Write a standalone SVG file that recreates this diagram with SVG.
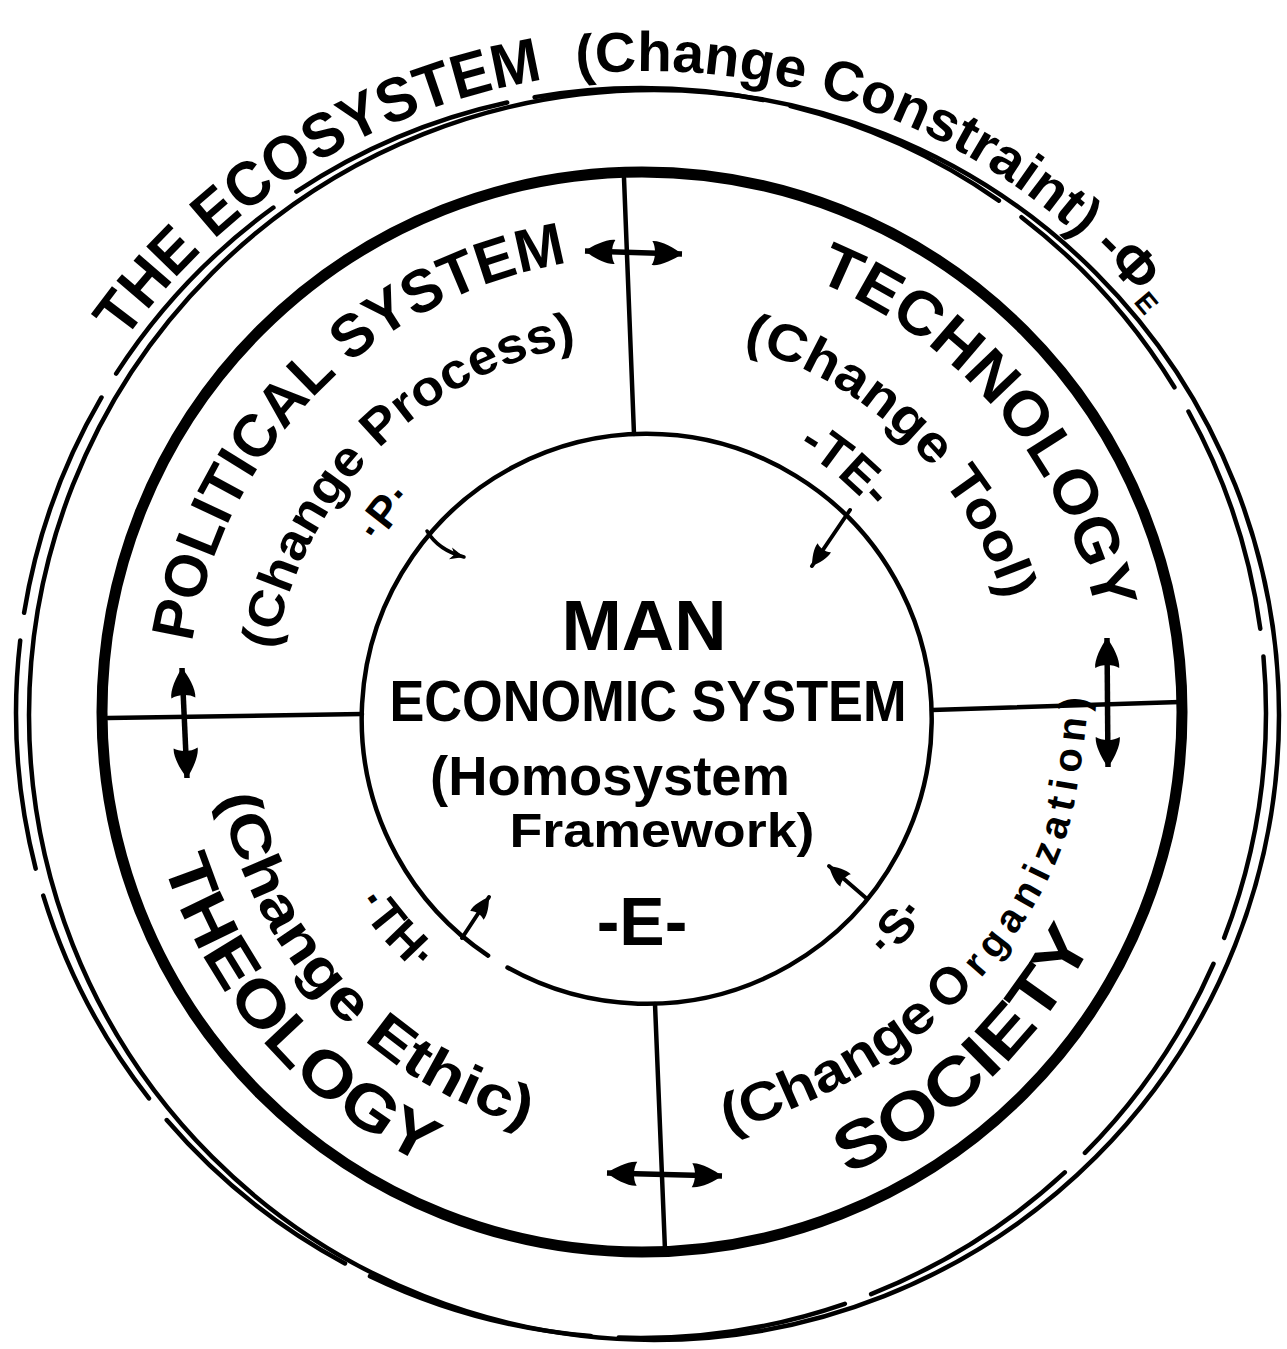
<svg xmlns="http://www.w3.org/2000/svg" width="1287" height="1349" viewBox="0 0 1287 1349">
<style>
.t{font-family:"Liberation Sans","DejaVu Sans",Arial,sans-serif;font-weight:bold;fill:#000}
.thin{fill:none;stroke:#000;stroke-width:4.5;stroke-linecap:round}
.thick{fill:none;stroke:#000;stroke-width:11}
.dash{fill:none;stroke:#000;stroke-width:4.5;stroke-linecap:round;stroke-dasharray:230 28}
.div{fill:none;stroke:#000;stroke-width:4.5;stroke-linecap:round}
.arr{fill:none;stroke:#000;stroke-width:5.5;stroke-linecap:butt;marker-start:url(#ah);marker-end:url(#ah)}
.sarr{fill:none;stroke:#000;stroke-width:3.5;stroke-linecap:round;marker-end:url(#sh)}
.marr{fill:none;stroke:#000;stroke-width:4;stroke-linecap:round;marker-end:url(#mh)}
</style>
<defs>
<marker id="ah" viewBox="-32 -14 34 28" refX="0" refY="0" markerWidth="34" markerHeight="28" markerUnits="userSpaceOnUse" orient="auto-start-reverse">
<path d="M0 0 C-8 -6 -22 -13 -30 -12 C-26 -6 -26 6 -30 12 C-22 13 -8 6 0 0Z"/>
</marker>
<marker id="mh" viewBox="-24 -10 26 20" refX="0" refY="0" markerWidth="26" markerHeight="20" markerUnits="userSpaceOnUse" orient="auto">
<path d="M0 0 C-6 -4 -16 -9 -22 -8 C-19 -4 -19 4 -22 8 C-16 9 -6 4 0 0Z"/>
</marker>
<marker id="sh" viewBox="-16 -8 18 16" refX="0" refY="0" markerWidth="18" markerHeight="16" markerUnits="userSpaceOnUse" orient="auto">
<path d="M0 0 L-14 -6 L-10 0 L-14 6Z"/>
</marker>
<path id="pEco" d="M91.2 392.5 A643 643 0 0 1 1230.8 442.3"/>
<path id="pPol" d="M188.7 672.3 A455 455 0 0 1 642 257"/>
<path id="pPolC" d="M271.4 679.6 A372 372 0 0 1 642 340"/>
<path id="pP" d="M334.8 657.8 A312 312 0 0 1 535.3 418.8"/>
<path id="pTech" d="M762.3 262.8 A465 465 0 0 1 1105.2 671.5"/>
<path id="pTechC" d="M707.8 338.8 A379 379 0 0 1 1019.6 679"/>
<path id="pTE" d="M695.1 410.6 A306 306 0 0 1 929.5 607.3"/>
<path id="pTheo" d="M147.6 799.2 A502 502 0 0 0 512.1 1196.9"/>
<path id="pTheoC" d="M212.3 727 A430 430 0 0 0 604.5 1140.4"/>
<path id="pTH" d="M303.2 771.7 A344 344 0 0 0 524.3 1035.3"/>
<path id="pSoc" d="M729.9 1210.3 A506 506 0 0 0 1130.8 843"/>
<path id="pS" d="M702.6 1055.7 A349 349 0 0 0 985.7 772.6"/>
<path id="pOrg" d="M720 1135 C800 1110 890 1070 960 1000 C1010 950 1060 880 1075 800 C1082 760 1086 730 1088 700"/>
</defs>
<rect width="1287" height="1349" fill="#fff"/>

<g id="ecosystem">
<circle class="thin" cx="654" cy="715" r="625"/>
<circle class="dash" cx="641" cy="713" r="625"/>
<text class="t" font-size="62"><textPath href="#pEco" startOffset="62" textLength="506" lengthAdjust="spacingAndGlyphs">THE ECOSYSTEM</textPath></text>
<text class="t" font-size="56"><textPath href="#pEco" startOffset="602" textLength="546" lengthAdjust="spacingAndGlyphs">(Change Constraint)</textPath></text>
<text class="t" font-size="56"><textPath href="#pEco" startOffset="1163">-Φ</textPath></text>
<text class="t" font-size="28" transform="translate(1133 302) rotate(50)">E</text>
</g>

<g id="systems-ring">
<circle class="thick" cx="642" cy="712" r="540"/>
</g>

<g id="political">
<text class="t" font-size="60"><textPath href="#pPol" startOffset="30" textLength="570" lengthAdjust="spacingAndGlyphs">POLITICAL SYSTEM</textPath></text>
<text class="t" font-size="50"><textPath href="#pPolC" startOffset="30" textLength="456" lengthAdjust="spacingAndGlyphs">(Change Process)</textPath></text>
<text class="t" font-size="44" text-anchor="middle"><textPath href="#pP" startOffset="152">·P·</textPath></text>
</g>

<g id="technology">
<text class="t" font-size="62"><textPath href="#pTech" startOffset="56" textLength="452" lengthAdjust="spacingAndGlyphs">TECHNOLOGY</textPath></text>
<text class="t" font-size="52"><textPath href="#pTechC" startOffset="36" textLength="380" lengthAdjust="spacingAndGlyphs">(Change Tool)</textPath></text>
<text class="t" font-size="50" text-anchor="middle"><textPath href="#pTE" startOffset="158">-TE-</textPath></text>
</g>

<g id="theology">
<text class="t" font-size="64"><textPath href="#pTheo" startOffset="66" textLength="410" lengthAdjust="spacingAndGlyphs">THEOLOGY</textPath></text>
<text class="t" font-size="56"><textPath href="#pTheoC" startOffset="70" textLength="474" lengthAdjust="spacingAndGlyphs">(Change Ethic)</textPath></text>
<text class="t" font-size="48" text-anchor="middle"><textPath href="#pTH" startOffset="190">·TH·</textPath></text>
</g>

<g id="society">
<text class="t" font-size="66"><textPath href="#pSoc" startOffset="123" textLength="346" lengthAdjust="spacingAndGlyphs">SOCIETY</textPath></text>
<text class="t" font-size="48" text-anchor="middle"><textPath href="#pS" startOffset="243">·S·</textPath></text>
<text class="t" font-size="54"><textPath href="#pOrg" startOffset="8" textLength="242" lengthAdjust="spacingAndGlyphs">(Change</textPath></text>
<text class="t" font-size="40"><textPath href="#pOrg" startOffset="260" textLength="355" lengthAdjust="spacing"><tspan font-size="52">O</tspan>rganization)</textPath></text>
</g>

<g id="man">
<path class="thin" d="M488.1 955.6 A285 285 0 1 1 507.5 967.5"/>
<text class="t" x="644" y="650" font-size="70" text-anchor="middle" textLength="165" lengthAdjust="spacingAndGlyphs">MAN</text>
<text class="t" x="648" y="721" font-size="58" text-anchor="middle" textLength="517" lengthAdjust="spacingAndGlyphs">ECONOMIC SYSTEM</text>
<text class="t" x="610" y="795" font-size="56" text-anchor="middle" textLength="360" lengthAdjust="spacingAndGlyphs">(Homosystem</text>
<text class="t" x="662" y="847" font-size="48" text-anchor="middle" textLength="305" lengthAdjust="spacingAndGlyphs">Framework)</text>
<text class="t" x="642" y="945" font-size="68" text-anchor="middle">-E-</text>
</g>

<g id="connectors">
<line class="div" x1="624" y1="178" x2="634" y2="434"/>
<line class="div" x1="108" y1="718" x2="362" y2="714"/>
<line class="div" x1="932" y1="710" x2="1180" y2="702"/>
<line class="div" x1="655" y1="1004" x2="665" y2="1250"/>
<line class="arr" x1="585" y1="251" x2="682" y2="254"/>
<line class="arr" x1="182" y1="668" x2="187" y2="778"/>
<line class="arr" x1="1107" y1="638" x2="1108" y2="767"/>
<line class="arr" x1="607" y1="1173" x2="722" y2="1176"/>
<path class="sarr" d="M427 531 Q438 550 464 557"/>
<line class="marr" x1="850" y1="510" x2="812" y2="566"/>
<line class="marr" x1="462" y1="938" x2="489" y2="897"/>
<line class="marr" x1="866" y1="898" x2="829" y2="866"/>
</g>
</svg>
